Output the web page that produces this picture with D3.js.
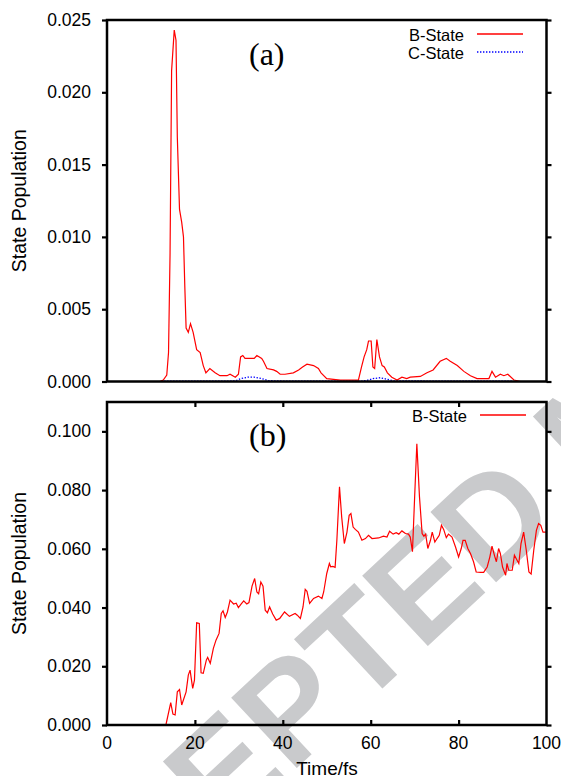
<html>
  <head>
    <title>State population</title>
    <script type="text/javascript" src="https://d3js.org/d3.v7.min.js"></script>
    <style type="text/css">
      body { margin: 0; background: #fff; }
      text { font-family: "Liberation Sans", Arial, sans-serif; }
    </style>
  </head>
  <body>
    <script type="text/javascript">

      // panel (a): B-State and C-State populations
      var aTime = [0, 12, 12.8, 13.6, 14.0, 14.35, 14.7, 15.3, 15.7, 16.0, 16.5, 17.0, 17.4, 17.7, 18.0, 18.5, 19.0, 19.6,
        20.4, 21.2, 21.9, 22.5, 23.4, 24.6, 25.7, 27.3, 28.0, 29.2, 29.9, 30.4, 30.9, 31.4, 32.6, 33.5, 34.1, 35.2, 35.6,
        36.4, 37.9, 38.6, 39.4, 40.5, 42.4, 43.6, 44.5, 45.5, 47.0, 48.1, 48.7, 50.0, 53.1, 57.2, 57.9, 58.5, 59.1, 59.5,
        60.1, 60.5, 60.9, 61.4, 62.0, 62.6, 63.1, 63.8, 64.8, 66.0, 67.1, 68.2, 69.0, 71.3, 72.8, 74.2, 75.8, 77.2, 78.1,
        79.7, 81.2, 82.7, 84.2, 86.9, 87.6, 88.4, 89.5, 90.3, 91.2, 92.6, 94.1, 100];
      var aStateB = [0, 0, 0.0001, 0.00045, 0.002, 0.0089, 0.0215, 0.0243, 0.0236, 0.0169, 0.0119, 0.0110, 0.0100, 0.0066, 0.0037, 0.0034, 0.0040, 0.0034,
        0.0022, 0.0020, 0.0011, 0.0006, 0.0009, 0.0006, 0.0004, 0.0004, 0.0005, 0.0003, 0.0005, 0.0017, 0.0018, 0.0016, 0.0016, 0.0016, 0.0018, 0.0016, 0.0014,
        0.0009, 0.0008, 0.0007, 0.0005, 0.0005, 0.0006, 0.0008, 0.0010, 0.0012, 0.0011, 0.0009, 0.0006, 0.0002, 0.0001, 0.0001, 0.0010, 0.0017, 0.0022, 0.0028,
        0.0028, 0.0010, 0.0009, 0.0029, 0.0017, 0.0011, 0.0010, 0.0006, 0.0003, 0.0001, 0.0003, 0.0002, 0.0003, 0.00035, 0.0006, 0.0008, 0.0014, 0.0016, 0.0014,
        0.0011, 0.0007, 0.0004, 0.0002, 0.0002, 0.0007, 0.0003, 0.0005, 0.0004, 0.0005, 0.0001, 0, 0];

      var cTime = [13, 20, 28, 29.2, 30.5, 32, 33.5, 35, 36.7, 40, 50, 58, 59.2, 60.5, 62.2, 63.8, 65.2, 75, 85, 92.5];
      var aStateC = [0.00002, 0.00003, 0.00003, 0.00005, 0.0002, 0.0003, 0.0003, 0.00022, 0.00006, 0.00003, 0.00003, 0.00003,
        0.00008, 0.0002, 0.00026, 0.00015, 0.00004, 0.00003, 0.00003, 0.00003];

      // panel (b): B-State population
      var bTime = [13.4, 14.5, 15.0, 15.5, 16.0, 16.5, 17.0, 18.0, 18.5, 18.9, 19.5, 19.9, 20.4, 21.0, 21.4, 21.9, 22.6, 22.9, 23.5,
        24.2, 24.8, 25.5, 26.0, 26.4, 26.9, 27.4, 28.0, 28.8, 29.4, 29.9, 30.5, 31.1, 31.8, 32.3, 33.0, 33.6, 34.1, 34.5, 35.0,
        35.5, 36.0, 36.5, 37.0, 37.7, 38.5, 39.3, 40.4, 41.5, 42.8, 43.3, 44.0, 44.6, 45.1, 45.5, 46.1, 47.0, 48.1, 48.9, 49.3,
        50.0, 50.6, 50.9, 51.4, 51.9, 52.3, 52.9, 53.4, 54.0, 54.6, 55.1, 55.5, 56.0, 56.5, 57.2, 58.0, 58.8, 59.5, 60.3, 61.8,
        62.9, 63.7, 64.3, 65.1, 65.8, 66.4, 67.1, 67.9, 68.6, 69.0, 69.5, 70.0, 70.5, 71.1, 71.7, 72.1, 72.5, 73.0, 73.6, 74.0,
        74.6, 75.1, 75.6, 76.1, 76.6, 77.2, 77.7, 78.5, 79.3, 80.0, 80.6, 81.0, 81.5, 82.1, 82.7, 83.4, 84.0, 85.0, 85.7, 86.5,
        87.1, 87.6, 88.2, 88.6, 89.1, 89.5, 90.0, 90.7, 91.0, 91.4, 92.2, 92.7, 93.3, 93.7, 94.2, 94.8, 95.4, 96.0, 96.5, 97.1,
        97.7, 98.2, 98.7, 99.2, 99.7, 100];
      var bStateB = [0, 0.0076, 0.0037, 0.0034, 0.0113, 0.0121, 0.0068, 0.0113, 0.0170, 0.0187, 0.0125, 0.0153, 0.0348, 0.0346, 0.0178, 0.0176, 0.0221, 0.0230, 0.0210,
        0.0261, 0.0289, 0.0312, 0.0380, 0.0389, 0.0366, 0.0385, 0.0425, 0.0412, 0.0415, 0.0400, 0.0412, 0.0423, 0.0412, 0.0417, 0.0473, 0.0499, 0.0453, 0.0447, 0.0487,
        0.0473, 0.0391, 0.0382, 0.0402, 0.0378, 0.0357, 0.0363, 0.0385, 0.0370, 0.0380, 0.0374, 0.0363, 0.0402, 0.0462, 0.0455, 0.0414, 0.0431, 0.0439, 0.0431, 0.0453,
        0.0516, 0.0550, 0.0539, 0.0540, 0.0537, 0.0629, 0.0811, 0.0708, 0.0618, 0.0657, 0.0714, 0.0720, 0.0674, 0.0666, 0.0657, 0.0629, 0.0635, 0.0646, 0.0635, 0.0637,
        0.0643, 0.0640, 0.0660, 0.0650, 0.0655, 0.0650, 0.0661, 0.0652, 0.0650, 0.0640, 0.0590, 0.0777, 0.0958, 0.0777, 0.0652, 0.0643, 0.0650, 0.0601, 0.0629, 0.0657,
        0.0623, 0.0635, 0.0646, 0.0680, 0.0666, 0.0638, 0.0650, 0.0640, 0.0606, 0.0572, 0.0601, 0.0629, 0.0629, 0.0601, 0.0584, 0.0556, 0.0521, 0.0520, 0.0520, 0.0538,
        0.0572, 0.0609, 0.0575, 0.0556, 0.0601, 0.0584, 0.0538, 0.0510, 0.0550, 0.0527, 0.0527, 0.0578, 0.0561, 0.0550, 0.0618, 0.0657, 0.0595, 0.0521, 0.0514, 0.0595,
        0.0663, 0.0686, 0.0680, 0.0657, 0.0657, 0.0657];

      // tick values
      var xTicks = [0, 20, 40, 60, 80, 100];
      var aYTicks = [0, 0.005, 0.010, 0.015, 0.020, 0.025];
      var bYTicks = [0, 0.020, 0.040, 0.060, 0.080, 0.100];

      var w = 561, h = 776;
      var left = 107, right = 546.5;

      var svg = d3.select("body").append("svg")
        .attr("width", w)
        .attr("height", h);

      // watermark
      svg.append("text")
        .attr("transform", "translate(0,1045) rotate(-43)")
        .attr("font-size", 140)
        .attr("font-weight", "bold")
        .attr("fill", "#c9cacc")
        .text("ACCEPTED MANUSCRIPT");

      var x = d3.scaleLinear().domain([0, 100]).range([left, right]);
      var yA = d3.scaleLinear().domain([0, 0.025]).range([381.5, 20]);
      var yB = d3.scaleLinear().domain([0, 0.11]).range([725, 402]);

      function zip(t, v) { return t.map(function(d, i) { return [d, v[i]]; }); }

      function panel(y, yTicks, xTickMarks, xLabels) {
        var g = svg.append("g");
        var top = y.range()[1], bottom = y.range()[0];

        // y ticks, left and right, pointing outward
        var yl = g.append("g").attr("transform", "translate(" + left + ",0)")
          .call(d3.axisLeft(y).tickValues(yTicks).tickFormat(d3.format(".3f")).tickSize(5).tickPadding(11));
        var yr = g.append("g").attr("transform", "translate(" + right + ",0)")
          .call(d3.axisRight(y).tickValues(yTicks).tickFormat("").tickSize(5));
        [yl, yr].forEach(function(a) {
          a.select(".domain").remove();
          a.selectAll("line").attr("stroke-width", 2.2);
          a.selectAll("text").attr("font-size", 17.5).attr("fill", "#000")
            .attr("font-family", "'Liberation Sans', Arial, sans-serif");
        });

        if (xTickMarks) {
          var inner = xTicks.filter(function(d) { return d > 0 && d < 100; });
          var xb = g.append("g").attr("transform", "translate(0," + bottom + ")")
            .call(d3.axisTop(x).tickValues(inner).tickFormat("").tickSize(5));
          var xt = g.append("g").attr("transform", "translate(0," + top + ")")
            .call(d3.axisBottom(x).tickValues(inner).tickFormat("").tickSize(5));
          [xb, xt].forEach(function(a) {
            a.select(".domain").remove();
            a.selectAll("line").attr("stroke-width", 2.2);
          });
        }
        if (xLabels) {
          g.selectAll(".xl").data(xTicks).enter().append("text")
            .attr("x", function(d) { return x(d); })
            .attr("y", 749)
            .attr("text-anchor", "middle")
            .attr("font-size", 17.5)
            .text(function(d) { return d; });
        }
        return g;
      }

      function frame(y) {
        svg.append("rect")
          .attr("x", left).attr("y", y.range()[1])
          .attr("width", right - left).attr("height", y.range()[0] - y.range()[1])
          .attr("fill", "none").attr("stroke", "#000").attr("stroke-width", 2.5);
      }

      var lineA = d3.line().x(function(d) { return x(d[0]); }).y(function(d) { return yA(d[1]); });
      var lineB = d3.line().x(function(d) { return x(d[0]); }).y(function(d) { return yB(d[1]); });

      // panel (a)
      panel(yA, aYTicks, false, false);
      svg.append("path").datum(zip(cTime, aStateC)).attr("d", lineA)
        .attr("fill", "none").attr("stroke", "#0000ff").attr("stroke-width", 1.3).attr("stroke-dasharray", "1.4,1.6");
      svg.append("path").datum(zip(aTime, aStateB)).attr("d", lineA)
        .attr("fill", "none").attr("stroke", "#ff0000").attr("stroke-width", 1.2);
      frame(yA);

      // panel (b)
      panel(yB, bYTicks, true, true);
      svg.append("path").datum(zip(bTime, bStateB)).attr("d", lineB)
        .attr("fill", "none").attr("stroke", "#ff0000").attr("stroke-width", 1.2);
      frame(yB);

      // panel letters
      svg.append("text").attr("x", 249).attr("y", 65)
        .attr("font-size", 32)
        .style("font-family", "'Liberation Serif', serif")
        .text("(a)");
      svg.append("text").attr("x", 249).attr("y", 446)
        .attr("font-size", 32)
        .style("font-family", "'Liberation Serif', serif")
        .text("(b)");

      // legends
      function legendItem(label, tx, ty, lineY, color, dash) {
        svg.append("text").attr("x", tx).attr("y", ty).attr("text-anchor", "end")
          .attr("font-size", 16.5).text(label);
        svg.append("line").attr("x1", tx + 13).attr("x2", tx + 59).attr("y1", lineY).attr("y2", lineY)
          .attr("stroke", color).attr("stroke-width", 1.3).attr("stroke-dasharray", dash);
      }
      legendItem("B-State", 464, 40.5, 34, "#ff0000", null);
      legendItem("C-State", 464, 58.5, 52, "#0000ff", "1.4,1.6");
      legendItem("B-State", 467, 421.5, 415, "#ff0000", null);

      // axis titles
      svg.append("text").attr("transform", "translate(26,200.75) rotate(-90)")
        .attr("text-anchor", "middle").attr("font-size", 19.5).text("State Population");
      svg.append("text").attr("transform", "translate(26,563.5) rotate(-90)")
        .attr("text-anchor", "middle").attr("font-size", 19.5).text("State Population");
      svg.append("text").attr("x", 327).attr("y", 775)
        .attr("text-anchor", "middle").attr("font-size", 19).text("Time/fs");

    </script>
  </body>
</html>
